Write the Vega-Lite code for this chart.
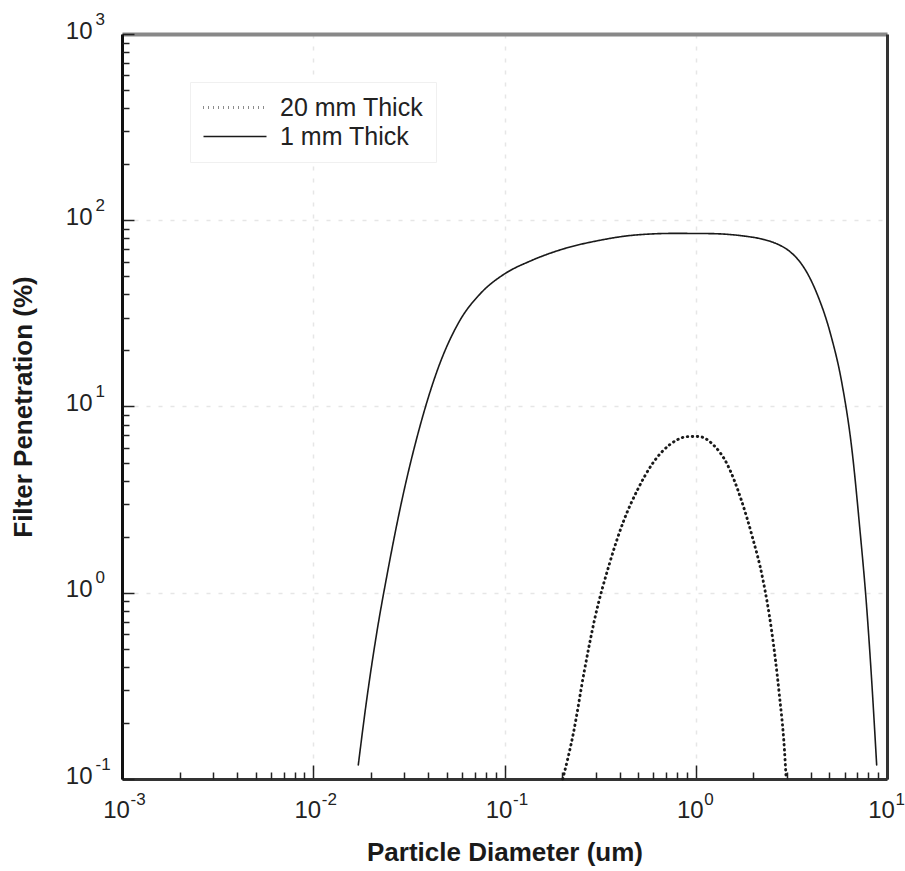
{
  "$schema": "https://vega.github.io/schema/vega-lite/v6.json",
  "width": 765,
  "height": 745,
  "autosize": {"type": "none"},
  "padding": {"left": 122, "top": 34, "right": 18, "bottom": 92},
  "background": "white",
  "config": {"view": {"stroke": null}, "font": "Liberation Sans"},
  "data": {
    "values": [
      {"series": "1 mm Thick", "d": 0.0172, "p": 0.119},
      {"series": "1 mm Thick", "d": 0.0189, "p": 0.253},
      {"series": "1 mm Thick", "d": 0.0215, "p": 0.613},
      {"series": "1 mm Thick", "d": 0.0245, "p": 1.3},
      {"series": "1 mm Thick", "d": 0.0291, "p": 3.15},
      {"series": "1 mm Thick", "d": 0.0361, "p": 7.8},
      {"series": "1 mm Thick", "d": 0.0447, "p": 15.8},
      {"series": "1 mm Thick", "d": 0.0579, "p": 28.5},
      {"series": "1 mm Thick", "d": 0.075, "p": 40.5},
      {"series": "1 mm Thick", "d": 0.1, "p": 51.5},
      {"series": "1 mm Thick", "d": 0.137, "p": 60.5},
      {"series": "1 mm Thick", "d": 0.2017, "p": 70},
      {"series": "1 mm Thick", "d": 0.31, "p": 77.8},
      {"series": "1 mm Thick", "d": 0.477, "p": 83.2},
      {"series": "1 mm Thick", "d": 0.766, "p": 85},
      {"series": "1 mm Thick", "d": 1.18, "p": 84.8},
      {"series": "1 mm Thick", "d": 1.73, "p": 82.6},
      {"series": "1 mm Thick", "d": 2.3, "p": 78.5},
      {"series": "1 mm Thick", "d": 2.67, "p": 74.5},
      {"series": "1 mm Thick", "d": 3.1, "p": 68},
      {"series": "1 mm Thick", "d": 3.45, "p": 61},
      {"series": "1 mm Thick", "d": 3.85, "p": 51.5},
      {"series": "1 mm Thick", "d": 4.28, "p": 40.9},
      {"series": "1 mm Thick", "d": 5.09, "p": 24.1},
      {"series": "1 mm Thick", "d": 5.79, "p": 13.6},
      {"series": "1 mm Thick", "d": 6.59, "p": 5.6},
      {"series": "1 mm Thick", "d": 7.18, "p": 2.31},
      {"series": "1 mm Thick", "d": 7.83, "p": 0.835},
      {"series": "1 mm Thick", "d": 8.35, "p": 0.316},
      {"series": "1 mm Thick", "d": 8.83, "p": 0.119},
      {"series": "20 mm Thick", "d": 0.2017, "p": 0.1},
      {"series": "20 mm Thick", "d": 0.2296, "p": 0.178},
      {"series": "20 mm Thick", "d": 0.261, "p": 0.377},
      {"series": "20 mm Thick", "d": 0.297, "p": 0.732},
      {"series": "20 mm Thick", "d": 0.353, "p": 1.42},
      {"series": "20 mm Thick", "d": 0.419, "p": 2.42},
      {"series": "20 mm Thick", "d": 0.498, "p": 3.6},
      {"series": "20 mm Thick", "d": 0.591, "p": 4.9},
      {"series": "20 mm Thick", "d": 0.733, "p": 6.25},
      {"series": "20 mm Thick", "d": 0.91, "p": 6.89},
      {"series": "20 mm Thick", "d": 1.035, "p": 6.9},
      {"series": "20 mm Thick", "d": 1.23, "p": 6.25},
      {"series": "20 mm Thick", "d": 1.46, "p": 4.9},
      {"series": "20 mm Thick", "d": 1.73, "p": 3.15},
      {"series": "20 mm Thick", "d": 1.97, "p": 2.02},
      {"series": "20 mm Thick", "d": 2.24, "p": 1.19},
      {"series": "20 mm Thick", "d": 2.5, "p": 0.613},
      {"series": "20 mm Thick", "d": 2.73, "p": 0.289},
      {"series": "20 mm Thick", "d": 2.91, "p": 0.1426},
      {"series": "20 mm Thick", "d": 2.97, "p": 0.1}
    ]
  },
  "resolve": {"axis": {"x": "independent", "y": "independent"}},
  "layer": [
    {
      "mark": {"type": "line", "interpolate": "monotone", "strokeCap": "round"},
      "encoding": {
        "x": {
          "field": "d", "type": "quantitative",
          "scale": {"type": "log", "domain": [0.001, 10], "nice": false},
          "axis": {
            "orient": "bottom", "values": [0.001, 0.01, 0.1, 1, 10],
            "labelExpr": "'10'", "labelFontSize": 24, "labelColor": "#222",
            "labelPadding": 33, "labelOffset": -6, "labelFlush": false, "labelOverlap": false,
            "labelBaseline": "top", "labelAlign": "center",
            "tickSize": -14, "tickWidth": 1.5, "tickColor": "#222",
            "domain": true, "domainColor": "#333", "domainWidth": 3,
            "grid": true, "gridColor": "#e6e6e6", "gridDash": [4, 8], "gridWidth": 1.5,
            "title": "Particle Diameter (um)", "titleFontSize": 26, "titleFontWeight": "bold",
            "titleColor": "#1a1a1a", "titlePadding": 17
          }
        },
        "y": {
          "field": "p", "type": "quantitative",
          "scale": {"type": "log", "domain": [0.1, 1000], "nice": false},
          "axis": {
            "orient": "left", "values": [0.1, 1, 10, 100, 1000],
            "labelExpr": "'10'", "labelFontSize": 24, "labelColor": "#222",
            "labelPadding": 42, "labelOffset": -3, "labelFlush": false, "labelOverlap": false,
            "labelBaseline": "middle", "labelAlign": "right",
            "tickSize": -12, "tickWidth": 1.5, "tickColor": "#222",
            "domain": true, "domainColor": "#111", "domainWidth": 3,
            "grid": true, "gridColor": "#e6e6e6", "gridDash": [4, 8], "gridWidth": 1.5,
            "title": "Filter Penetration (%)", "titleFontSize": 26, "titleFontWeight": "bold",
            "titleColor": "#1a1a1a", "titlePadding": 29
          }
        },
        "strokeDash": {
          "field": "series", "type": "nominal",
          "scale": {"domain": ["20 mm Thick", "1 mm Thick"], "range": [[0.5, 4.5], [1, 0]]},
          "legend": {
            "orient": "none", "legendX": 68, "legendY": 48, "title": null,
            "symbolType": "stroke", "symbolSize": 3969, "clipHeight": 27, "rowPadding": 2,
            "labelFontSize": 25, "labelColor": "#222", "labelOffset": 12,
            "symbolStrokeColor": "#1a1a1a", "symbolStrokeWidth": 1.5,
            "padding": 12, "strokeColor": "#f0f0f0", "fillColor": "white"
          }
        },
        "strokeWidth": {
          "field": "series", "type": "nominal",
          "scale": {"domain": ["20 mm Thick", "1 mm Thick"], "range": [2.9, 1.6]},
          "legend": null
        },
        "color": {"value": "#1a1a1a"}
      }
    },
    {
      "mark": {"type": "point", "opacity": 0},
      "encoding": {
        "x": {
          "field": "d", "type": "quantitative",
          "scale": {"type": "log", "domain": [0.001, 10], "nice": false},
          "axis": {
            "orient": "bottom", "values": [0.001, 0.01, 0.1, 1, 10],
            "labelExpr": "'' + round(log(datum.value)/LN10)", "labelFontSize": 17, "labelColor": "#222",
            "labelAlign": "left", "labelOffset": 8, "labelBaseline": "top", "labelPadding": 12,
            "labelFlush": false, "labelOverlap": false,
            "ticks": false, "tickSize": 0, "domain": false, "grid": false, "title": null
          }
        },
        "y": {
          "field": "p", "type": "quantitative",
          "scale": {"type": "log", "domain": [0.1, 1000], "nice": false},
          "axis": {
            "orient": "left", "values": [0.1, 1, 10, 100, 1000],
            "labelExpr": "'' + round(log(datum.value)/LN10)", "labelFontSize": 17, "labelColor": "#222",
            "labelAlign": "left", "labelOffset": -15, "labelBaseline": "middle", "labelPadding": 27,
            "labelFlush": false, "labelOverlap": false,
            "ticks": false, "tickSize": 0, "domain": false, "grid": false, "title": null
          }
        }
      }
    },
    {
      "mark": {"type": "point", "opacity": 0},
      "encoding": {
        "x": {
          "field": "d", "type": "quantitative",
          "scale": {"type": "log", "domain": [0.001, 10], "nice": false},
          "axis": {
            "orient": "bottom",
            "values": [0.002, 0.003, 0.004, 0.005, 0.006, 0.007, 0.008, 0.009, 0.02, 0.03, 0.04, 0.05, 0.06, 0.07, 0.08, 0.09, 0.2, 0.3, 0.4, 0.5, 0.6, 0.7, 0.8, 0.9, 2, 3, 4, 5, 6, 7, 8, 9],
            "labels": false, "tickSize": -7, "tickWidth": 1.5, "tickColor": "#222",
            "domain": false, "grid": false, "title": null
          }
        },
        "y": {
          "field": "p", "type": "quantitative",
          "scale": {"type": "log", "domain": [0.1, 1000], "nice": false},
          "axis": {
            "orient": "left",
            "values": [0.2, 0.3, 0.4, 0.5, 0.6, 0.7, 0.8, 0.9, 2, 3, 4, 5, 6, 7, 8, 9, 20, 30, 40, 50, 60, 70, 80, 90, 200, 300, 400, 500, 600, 700, 800, 900],
            "labels": false, "tickSize": -7, "tickWidth": 1.5, "tickColor": "#222",
            "domain": false, "grid": false, "title": null
          }
        }
      }
    },
    {
      "mark": {"type": "point", "opacity": 0},
      "encoding": {
        "x": {
          "field": "d", "type": "quantitative",
          "scale": {"type": "log", "domain": [0.001, 10], "nice": false},
          "axis": {
            "orient": "top", "labels": false, "ticks": false,
            "domain": true, "domainColor": "#888", "domainWidth": 4, "grid": false, "title": null
          }
        },
        "y": {
          "field": "p", "type": "quantitative",
          "scale": {"type": "log", "domain": [0.1, 1000], "nice": false},
          "axis": {
            "orient": "right", "labels": false, "ticks": false,
            "domain": true, "domainColor": "#333", "domainWidth": 3, "grid": false, "title": null
          }
        }
      }
    }
  ]
}
